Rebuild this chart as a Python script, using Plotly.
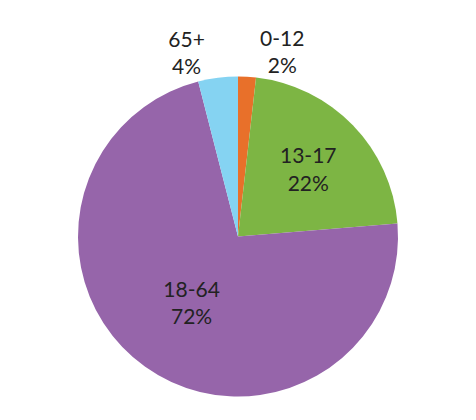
import plotly.graph_objects as go

labels = ["0-12", "13-17", "18-64", "65+"]
shares = [1.8, 21.9, 72.3, 4.0]
colors = ["#E8702A", "#7DB544", "#9665AA", "#85D3F2"]
text_positions = ["outside", "inside", "inside", "outside"]

fig = go.Figure(
	go.Pie(
		labels = labels,
		values = shares,
		sort = False,
		direction = "clockwise",
		rotation = 0,
		marker = dict(colors = colors, line = dict(width = 0)),
		texttemplate = "%{label}<br>%{percent:.0%}",
		textposition = text_positions,
		insidetextorientation = "horizontal",
		textfont = dict(family = "Lato, DejaVu Sans", size = 21, color = "#222222"),
		showlegend = False,
	)
)

fig.update_layout(
	width = 476,
	height = 420,
	margin = dict(l = 70, r = 86, t = 68, b = 31),
	paper_bgcolor = "white",
	plot_bgcolor = "white",
)

fig.write_html("out.html")
